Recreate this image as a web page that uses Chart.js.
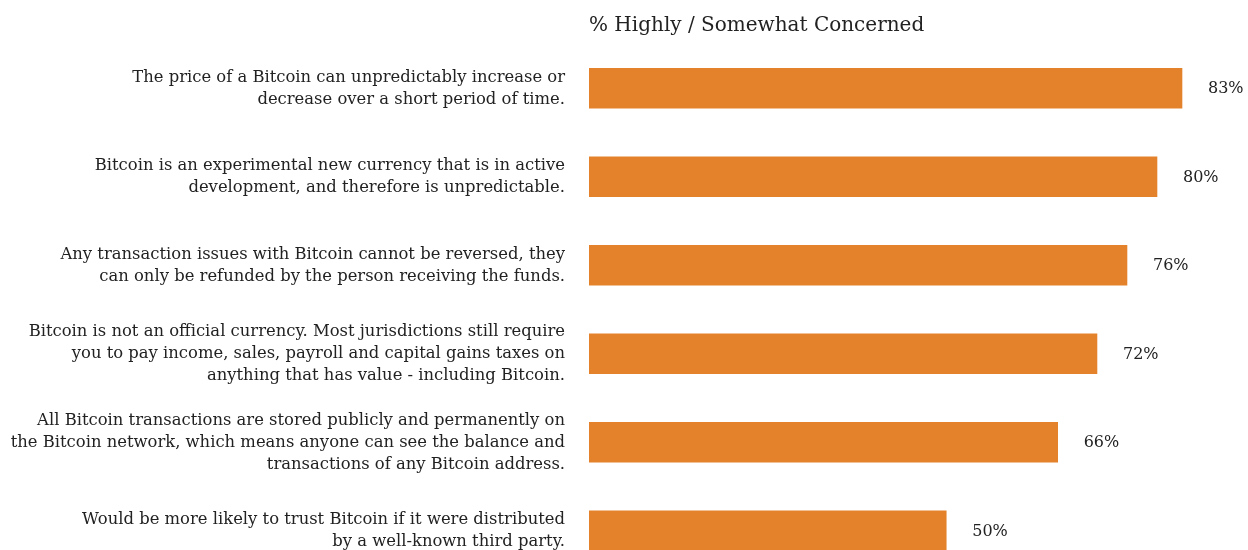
<!DOCTYPE html>
<html>
<head>
<meta charset="utf-8">
<script src="https://cdn.jsdelivr.net/npm/chart.js@4/dist/chart.umd.min.js"></script>
<style>
html,body{margin:0;padding:0;background:#fff;overflow:hidden;}
#wrap{width:1248px;height:575px;}
</style>
</head>
<body>
<div id="wrap"><canvas id="chart" width="1248" height="575"></canvas></div>
<script>

/* Data */

const titleText = "% Highly / Somewhat Concerned";

const statements = [
["The price of a Bitcoin can unpredictably increase or","decrease over a short period of time."],
["Bitcoin is an experimental new currency that is in active","development, and therefore is unpredictable."],
["Any transaction issues with Bitcoin cannot be reversed, they","can only be refunded by the person receiving the funds."],
["Bitcoin is not an official currency. Most jurisdictions still require","you to pay income, sales, payroll and capital gains taxes on","anything that has value - including Bitcoin."],
["All Bitcoin transactions are stored publicly and permanently on","the Bitcoin network, which means anyone can see the balance and","transactions of any Bitcoin address."],
["Would be more likely to trust Bitcoin if it were distributed","by a well-known third party."]
];

const concerned = [83.0, 79.5, 75.3, 71.1, 65.6, 50.0];
const concernedLabels = ["83%","80%","76%","72%","66%","50%"];

/* Style */

const serif = "'DejaVu Serif', 'Liberation Serif', serif";
const orange = "#E3822A";
const textColor = "#222222";

/* Value labels at bar ends */

const valueLabels = {
id:"valueLabels",
afterDatasetsDraw(chart){
const ctx = chart.ctx;
const meta = chart.getDatasetMeta(0);
ctx.save();
ctx.font = "16px " + serif;
ctx.fillStyle = textColor;
ctx.textAlign = "left";
ctx.textBaseline = "middle";
meta.data.forEach((bar,i)=>{
ctx.fillText(concernedLabels[i], bar.x + 26, bar.y + 1);
});
ctx.restore();
}
};

const ctx = document.getElementById("chart");

const chart = new Chart(ctx,{
type:"bar",
data:{
labels:statements,
datasets:[{
data:concerned,
backgroundColor:orange,
borderWidth:0,
barThickness:40
}]
},
options:{
indexAxis:"y",
responsive:false,
animation:false,
layout:{padding:{left:0,right:16,top:0,bottom:0}},
plugins:{
legend:{display:false},
tooltip:{enabled:false},
title:{
display:true,
text:titleText,
align:"start",
fullSize:false,
color:textColor,
font:{family:serif,size:20,weight:"normal"},
padding:{top:14,bottom:6}
}
},
scales:{
x:{
display:false,
min:0,
max:90
},
y:{
grid:{display:false,drawTicks:false},
border:{display:false},
ticks:{
color:textColor,
padding:24,
font:{family:serif,size:16.4,lineHeight:"22px"}
},
afterFit(scale){
// keep the axis width fixed and let the labels overflow top/bottom
scale.width = 589;
scale.paddingTop = 0;
scale.paddingBottom = 0;
}
}
}
},
plugins:[valueLabels]
});

</script>
</body>
</html>
